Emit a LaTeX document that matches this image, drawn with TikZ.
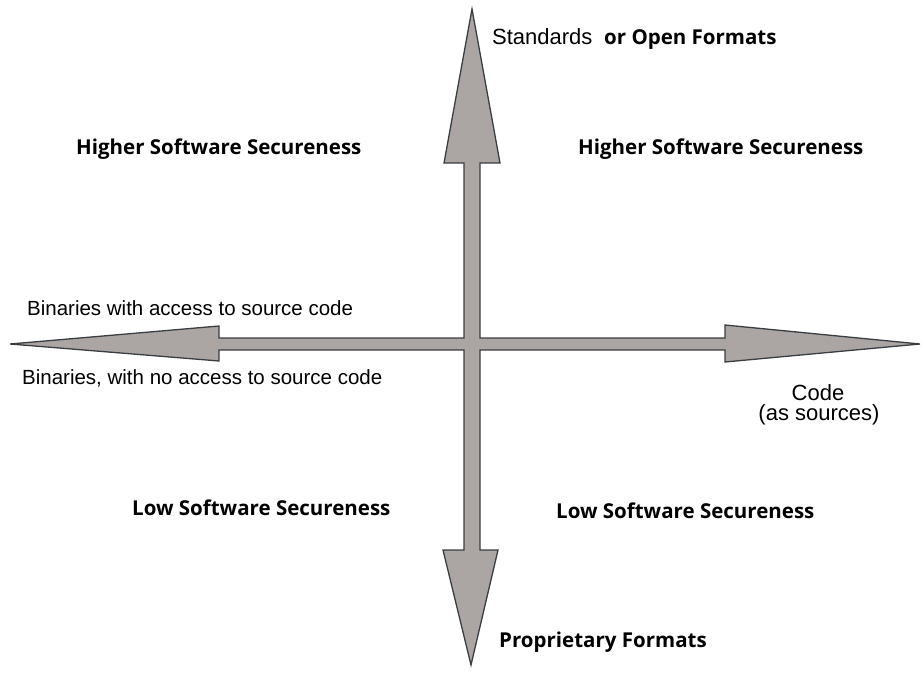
\documentclass[tikz,border=0pt]{standalone}
\usepackage{fontspec}
\setmainfont{Liberation Sans}
\newfontfamily\boldlabelfont{Open Sans}
\usepackage{tikz}
\usetikzlibrary{positioning}
\definecolor{crossfill}{RGB}{171,165,164}
\definecolor{crossline}{RGB}{58,62,66}
\tikzset{every picture/.style={x=1pt, y=-1pt}}
\tikzstyle{axislabel} = [inner sep=0pt, font=\fontsize{20.5}{24}\selectfont]
\tikzstyle{biglabel}  = [inner sep=0pt, font=\fontsize{22}{26}\selectfont]
\tikzstyle{quadlabel} = [inner sep=0pt, font=\boldlabelfont\bfseries\fontsize{20.5}{24}\selectfont]
\tikzstyle{cross}     = [draw=crossline, fill=crossfill, line width=1.3pt, line join=miter]

\begin{document}
\begin{tikzpicture}
	\useasboundingbox (0,0) rectangle (922,675);
	% cross arrow, one outline
	\coordinate (top)    at (472,9);
	\coordinate (bottom) at (471,665);
	\coordinate (left)   at (10,344);
	\coordinate (right)  at (920,344);
	\draw[cross] (top) -- (500,163) -- (480,163) -- (480,338) -- (725,338) -- (725,325)
		-- (right) -- (725,362) -- (725,350) -- (480,350) -- (480,550) -- (498,550)
		-- (bottom) -- (443,550) -- (464,550) -- (464,350) -- (219,350) -- (219,361)
		-- (left) -- (219,326) -- (219,338) -- (464,338) -- (464,163) -- (444,163) -- cycle;

	\node[biglabel,  anchor=base west] (std)  at (492,44)  {Standards};
	\node[quadlabel, anchor=base west] (open) at (604,44)  {or Open Formats};
	\node[quadlabel, anchor=base west] (hileft)  at (76,154)  {Higher Software Secureness};
	\node[quadlabel, anchor=base west] (hiright) at (578,154) {Higher Software Secureness};
	\node[axislabel, anchor=base west] (binacc)  at (27,315)  {Binaries with access to source code};
	\node[axislabel, anchor=base west] (binno)   at (22,384)  {Binaries, with no access to source code};
	\node[biglabel, anchor=base] (code) at (818,400) {Code};
	\node[biglabel, anchor=base] (src)  at (819,420) {(as sources)};
	\node[quadlabel, anchor=base west] (loleft)  at (132,515) {Low Software Secureness};
	\node[quadlabel, anchor=base west] (loright) at (556,518) {Low Software Secureness};
	\node[quadlabel, anchor=base west] (prop)    at (499,647) {Proprietary Formats};
\end{tikzpicture}
\end{document}
